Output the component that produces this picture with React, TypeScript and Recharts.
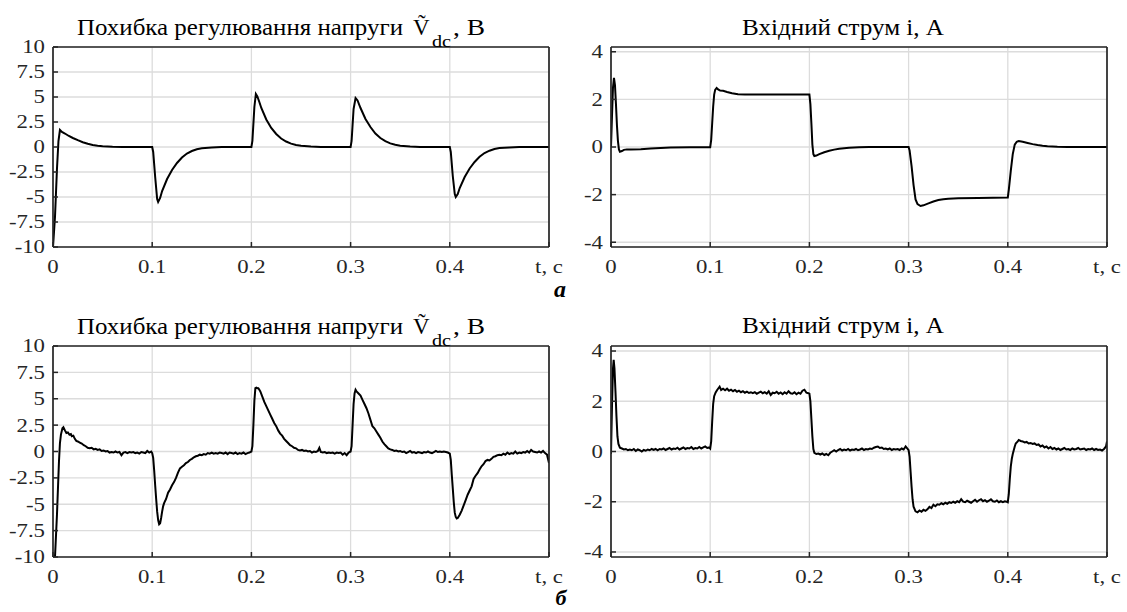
import React from 'react';
import { LineChart, Line, XAxis, YAxis, CartesianGrid } from 'recharts';

// ---------- data ----------
const xTicks = [0, 0.1, 0.2, 0.3, 0.4, 0.5];
const vTicks = [-10, -7.5, -5, -2.5, 0, 2.5, 5, 7.5, 10];
const iTicks = [-4, -2, 0, 2, 4];
const vDomain: [number, number] = [-10, 10];
const iDomain: [number, number] = [-4.2, 4.2];

const titleV = 'Похибка регулювання напруги';
const titleVSym = 'V\u0303';
const titleVSub = 'dc';
const titleVUnit = ', В';
const titleI = 'Вхідний струм і, А';
const xUnitLabel = 't, c';

// (a) voltage regulation error, V
const vdcA: [number, number][] = [
  [0, -10], [0.002, -7], [0.004, -2.2], [0.0055, 0.6], [0.007, 1.7], [0.009, 1.5], [0.012, 1.35], [0.016, 1.1],
  [0.02, 0.9], [0.025, 0.68], [0.03, 0.48], [0.035, 0.32], [0.04, 0.2], [0.045, 0.12], [0.05, 0.07], [0.06, 0.02],
  [0.07, 0], [0.1, 0],
  [0.101, -0.5], [0.103, -3], [0.105, -5.2], [0.106, -5.5], [0.108, -5.1], [0.11, -4.4], [0.115, -3.2], [0.12, -2.3],
  [0.125, -1.6], [0.13, -1.05], [0.135, -0.65], [0.14, -0.4], [0.145, -0.22], [0.15, -0.12], [0.16, -0.04], [0.17, 0], [0.2, 0],
  [0.201, 0.6], [0.203, 4.0], [0.2045, 5.3], [0.206, 5.05], [0.208, 4.5], [0.21, 3.9], [0.215, 2.75], [0.22, 1.9],
  [0.225, 1.3], [0.23, 0.85], [0.235, 0.55], [0.24, 0.34], [0.245, 0.2], [0.25, 0.12], [0.26, 0.04], [0.27, 0], [0.3, 0],
  [0.301, 0.6], [0.303, 3.8], [0.305, 4.9], [0.307, 4.65], [0.31, 3.9], [0.315, 2.8], [0.32, 2.0], [0.325, 1.35],
  [0.33, 0.9], [0.335, 0.58], [0.34, 0.36], [0.345, 0.22], [0.35, 0.13], [0.36, 0.04], [0.37, 0], [0.4, 0],
  [0.401, -0.5], [0.403, -2.9], [0.405, -4.7], [0.406, -5.0], [0.408, -4.7], [0.41, -4.1], [0.415, -3.0], [0.42, -2.15],
  [0.425, -1.5], [0.43, -0.98], [0.435, -0.6], [0.44, -0.37], [0.445, -0.2], [0.45, -0.11], [0.46, -0.04], [0.47, 0], [0.5, 0],
];

// (a) input current, A
const curA: [number, number][] = [
  [0, 0], [0.001, 1.3], [0.002, 2.5], [0.003, 2.9], [0.004, 2.6], [0.005, 1.8], [0.006, 0.9], [0.007, 0.25],
  [0.008, -0.1], [0.009, -0.2], [0.011, -0.17], [0.013, -0.12], [0.016, -0.1], [0.02, -0.11], [0.03, -0.09],
  [0.04, -0.06], [0.05, -0.04], [0.06, -0.02], [0.08, -0.01], [0.1, -0.01],
  [0.101, 0.3], [0.102, 1.0], [0.103, 1.7], [0.104, 2.2], [0.105, 2.4], [0.1065, 2.48], [0.108, 2.42], [0.11, 2.37],
  [0.113, 2.36], [0.117, 2.31], [0.122, 2.26], [0.128, 2.22], [0.135, 2.2], [0.2, 2.2],
  [0.201, 1.8], [0.202, 1.0], [0.203, 0.1], [0.204, -0.3], [0.205, -0.38], [0.207, -0.36], [0.21, -0.3], [0.215, -0.22],
  [0.22, -0.16], [0.225, -0.11], [0.23, -0.07], [0.24, -0.03], [0.25, -0.01], [0.26, 0], [0.3, 0],
  [0.301, -0.15], [0.303, -0.8], [0.305, -1.6], [0.307, -2.2], [0.309, -2.4], [0.312, -2.48], [0.315, -2.45], [0.32, -2.37],
  [0.325, -2.29], [0.33, -2.23], [0.335, -2.19], [0.34, -2.17], [0.35, -2.15], [0.37, -2.14], [0.4, -2.12],
  [0.401, -1.8], [0.403, -1.0], [0.405, -0.3], [0.407, 0.1], [0.409, 0.22], [0.411, 0.25], [0.415, 0.22], [0.42, 0.17],
  [0.425, 0.12], [0.43, 0.08], [0.435, 0.05], [0.44, 0.03], [0.45, 0.01], [0.46, 0], [0.5, 0],
];

// (б) voltage regulation error, V
const vdcB: [number, number][] = [
  [0, -10], [0.002, -10], [0.004, -6], [0.006, -1], [0.007, 0.8], [0.008, 1.6], [0.0095, 2.2], [0.0105, 2.3],
  [0.012, 2.0], [0.0135, 1.75], [0.015, 1.8], [0.0165, 1.6], [0.018, 1.65], [0.019, 1.45], [0.0205, 1.5], [0.022, 1.2],
  [0.0235, 1.0], [0.025, 0.95], [0.027, 0.85], [0.029, 0.75], [0.031, 0.6], [0.033, 0.5], [0.035, 0.35], [0.037, 0.3],
  [0.039, 0.35], [0.041, 0.2], [0.043, 0.25], [0.045, 0.15], [0.047, 0.2], [0.049, 0.05], [0.051, 0.1], [0.053, 0.0],
  [0.055, 0.05], [0.057, -0.1], [0.059, -0.05], [0.061, -0.1], [0.063, 0.0], [0.065, -0.1], [0.067, -0.05], [0.069, -0.35],
  [0.071, -0.1], [0.073, -0.05], [0.075, -0.15], [0.077, -0.05], [0.079, -0.1], [0.081, -0.05], [0.083, -0.15], [0.085, -0.1],
  [0.087, -0.2], [0.089, -0.05], [0.091, -0.1], [0.093, -0.15], [0.095, 0.05], [0.097, -0.1], [0.099, 0.0], [0.1, -0.15],
  [0.101, -0.6], [0.102, -1.8], [0.103, -3.2], [0.104, -4.5], [0.105, -5.7], [0.106, -6.5], [0.107, -6.9], [0.108, -6.8],
  [0.109, -6.3], [0.11, -5.7], [0.111, -5.2], [0.112, -4.9], [0.114, -4.5], [0.116, -3.9], [0.118, -3.6], [0.12, -3.2],
  [0.122, -2.9], [0.124, -2.5], [0.126, -2.0], [0.128, -1.6], [0.13, -1.45], [0.132, -1.3], [0.134, -1.1], [0.136, -1.0],
  [0.138, -0.8], [0.14, -0.7], [0.142, -0.55], [0.144, -0.45], [0.146, -0.4], [0.148, -0.3], [0.15, -0.35], [0.152, -0.25],
  [0.154, -0.3], [0.156, -0.15], [0.158, -0.2], [0.16, -0.1], [0.162, -0.2], [0.164, -0.15], [0.166, -0.2], [0.168, -0.1],
  [0.17, -0.15], [0.172, -0.2], [0.174, -0.1], [0.176, -0.25], [0.178, -0.1], [0.18, -0.15], [0.182, -0.2], [0.184, -0.1],
  [0.186, -0.25], [0.188, -0.15], [0.19, -0.2], [0.192, -0.1], [0.194, -0.25], [0.196, -0.15], [0.198, -0.1], [0.2, 0.0],
  [0.201, 0.5], [0.202, 2.5], [0.203, 4.8], [0.204, 6.0], [0.205, 6.05], [0.206, 6.0], [0.207, 6.0], [0.208, 5.85],
  [0.209, 5.7], [0.211, 5.2], [0.213, 4.7], [0.215, 4.3], [0.217, 3.9], [0.219, 3.5], [0.221, 3.1], [0.223, 2.7],
  [0.225, 2.4], [0.227, 2.0], [0.229, 1.7], [0.231, 1.5], [0.233, 1.2], [0.235, 1.0], [0.237, 0.8], [0.239, 0.6],
  [0.241, 0.5], [0.243, 0.35], [0.245, 0.3], [0.247, 0.15], [0.249, 0.1], [0.251, 0.15], [0.253, 0.05], [0.255, 0.1],
  [0.257, 0.0], [0.259, 0.05], [0.261, -0.1], [0.263, 0.0], [0.265, -0.05], [0.267, 0.05], [0.2685, 0.35], [0.27, -0.05],
  [0.272, -0.1], [0.274, -0.05], [0.276, -0.15], [0.278, -0.1], [0.28, -0.15], [0.282, -0.1], [0.284, -0.2], [0.286, -0.1],
  [0.288, -0.15], [0.29, -0.1], [0.292, -0.3], [0.294, -0.15], [0.296, -0.35], [0.298, -0.1], [0.3, 0.0],
  [0.301, 0.5], [0.302, 2.5], [0.303, 4.5], [0.304, 5.5], [0.305, 5.85], [0.306, 5.7], [0.308, 5.5], [0.31, 5.3],
  [0.312, 4.9], [0.314, 4.5], [0.316, 4.1], [0.318, 3.6], [0.32, 3.0], [0.322, 2.4], [0.324, 2.2], [0.326, 1.9],
  [0.328, 1.6], [0.33, 1.3], [0.332, 0.95], [0.334, 0.7], [0.336, 0.5], [0.338, 0.3], [0.34, 0.2], [0.342, 0.15],
  [0.344, 0.05], [0.346, 0.1], [0.348, 0.0], [0.35, 0.05], [0.352, -0.05], [0.354, 0.0], [0.356, -0.15], [0.358, -0.05],
  [0.36, 0.05], [0.362, -0.1], [0.364, -0.05], [0.366, -0.15], [0.368, -0.05], [0.37, -0.1], [0.372, -0.15], [0.374, -0.05],
  [0.376, -0.1], [0.378, 0.0], [0.38, -0.1], [0.382, -0.15], [0.384, -0.05], [0.386, 0.05], [0.388, -0.05], [0.39, 0.0],
  [0.392, -0.05], [0.394, 0.0], [0.396, -0.05], [0.398, -0.1], [0.4, -0.2],
  [0.401, -0.8], [0.402, -2.2], [0.403, -3.5], [0.404, -4.8], [0.405, -5.8], [0.406, -6.2], [0.407, -6.35], [0.408, -6.3],
  [0.41, -6.0], [0.412, -5.6], [0.414, -5.1], [0.416, -4.6], [0.418, -4.1], [0.42, -3.7], [0.422, -3.3], [0.424, -2.6],
  [0.426, -2.3], [0.428, -2.05], [0.43, -1.7], [0.432, -1.4], [0.434, -1.2], [0.436, -0.9], [0.438, -0.8], [0.44, -0.85],
  [0.442, -0.7], [0.444, -0.5], [0.446, -0.45], [0.448, -0.35], [0.45, -0.3], [0.452, -0.35], [0.454, -0.2], [0.456, -0.3],
  [0.458, -0.1], [0.46, -0.25], [0.462, -0.15], [0.464, -0.2], [0.466, 0.0], [0.468, -0.2], [0.47, -0.1], [0.472, -0.15],
  [0.474, -0.05], [0.476, -0.1], [0.478, 0.05], [0.48, -0.1], [0.482, 0.15], [0.484, 0.0], [0.486, -0.05], [0.488, -0.1],
  [0.49, 0.0], [0.492, -0.1], [0.494, 0.05], [0.496, -0.15], [0.498, -0.3], [0.5, -1.1],
];

// (б) input current, A
const curB: [number, number][] = [
  [0, -0.1], [0.001, 1.8], [0.002, 3.3], [0.0027, 3.65], [0.0035, 3.3], [0.0045, 2.4], [0.0055, 1.4], [0.0065, 0.6],
  [0.0075, 0.3], [0.009, 0.15], [0.011, 0.12], [0.013, 0.08], [0.015, 0.1], [0.017, 0.05], [0.019, 0.08], [0.021, 0.05],
  [0.023, 0.1], [0.025, 0.02], [0.027, 0.08], [0.029, 0.05], [0.031, 0.0], [0.033, 0.06], [0.035, 0.03], [0.037, 0.08],
  [0.039, 0.05], [0.041, 0.1], [0.043, 0.06], [0.045, 0.1], [0.047, 0.05], [0.049, 0.1], [0.051, 0.08], [0.053, 0.12],
  [0.055, 0.06], [0.057, 0.1], [0.059, 0.14], [0.061, 0.08], [0.063, 0.12], [0.065, 0.1], [0.067, 0.15], [0.069, 0.08],
  [0.071, 0.12], [0.073, 0.16], [0.075, 0.1], [0.077, 0.14], [0.079, 0.12], [0.081, 0.18], [0.083, 0.1], [0.085, 0.14],
  [0.087, 0.12], [0.089, 0.18], [0.091, 0.12], [0.093, 0.16], [0.095, 0.2], [0.097, 0.14], [0.099, 0.16], [0.1, 0.12],
  [0.101, 0.4], [0.102, 1.2], [0.103, 1.9], [0.104, 2.2], [0.1055, 2.35], [0.107, 2.45], [0.1095, 2.58], [0.111, 2.45],
  [0.113, 2.5], [0.115, 2.44], [0.117, 2.5], [0.119, 2.42], [0.121, 2.46], [0.123, 2.4], [0.125, 2.45], [0.127, 2.38],
  [0.129, 2.42], [0.131, 2.36], [0.133, 2.4], [0.135, 2.34], [0.137, 2.38], [0.139, 2.33], [0.141, 2.36], [0.143, 2.32],
  [0.145, 2.36], [0.147, 2.3], [0.149, 2.34], [0.151, 2.38], [0.153, 2.32], [0.155, 2.36], [0.157, 2.3], [0.159, 2.4],
  [0.161, 2.25], [0.163, 2.34], [0.165, 2.32], [0.167, 2.38], [0.169, 2.3], [0.171, 2.35], [0.173, 2.28], [0.175, 2.36],
  [0.177, 2.3], [0.179, 2.4], [0.181, 2.32], [0.183, 2.3], [0.185, 2.36], [0.187, 2.28], [0.189, 2.34], [0.191, 2.3],
  [0.193, 2.42], [0.195, 2.46], [0.197, 2.34], [0.199, 2.32], [0.2, 2.3],
  [0.201, 2.0], [0.202, 1.3], [0.203, 0.6], [0.204, 0.1], [0.205, -0.05], [0.207, -0.1], [0.209, -0.08], [0.211, -0.12],
  [0.213, -0.08], [0.215, -0.14], [0.217, -0.1], [0.219, -0.15], [0.221, -0.05], [0.223, 0.0], [0.225, 0.05], [0.227, 0.0],
  [0.229, 0.06], [0.231, 0.1], [0.233, 0.04], [0.235, 0.08], [0.237, 0.05], [0.239, 0.1], [0.241, 0.04], [0.243, 0.08],
  [0.245, 0.06], [0.247, 0.1], [0.249, 0.05], [0.251, 0.08], [0.253, 0.12], [0.255, 0.06], [0.257, 0.1], [0.259, 0.08],
  [0.261, 0.12], [0.263, 0.1], [0.265, 0.15], [0.267, 0.18], [0.269, 0.2], [0.271, 0.14], [0.273, 0.16], [0.275, 0.1],
  [0.277, 0.12], [0.279, 0.08], [0.281, 0.12], [0.283, 0.06], [0.285, 0.1], [0.287, 0.08], [0.289, 0.1], [0.291, 0.06],
  [0.293, 0.12], [0.295, 0.08], [0.297, 0.2], [0.299, 0.1], [0.3, 0.05],
  [0.301, -0.2], [0.302, -0.8], [0.303, -1.4], [0.304, -1.9], [0.305, -2.2], [0.307, -2.38], [0.309, -2.42], [0.311, -2.35],
  [0.313, -2.4], [0.315, -2.32], [0.317, -2.36], [0.319, -2.3], [0.321, -2.2], [0.323, -2.25], [0.325, -2.12], [0.327, -2.18],
  [0.329, -2.1], [0.331, -2.12], [0.333, -2.06], [0.335, -2.1], [0.337, -2.04], [0.339, -2.08], [0.341, -2.02], [0.343, -2.05],
  [0.345, -2.0], [0.347, -2.04], [0.349, -1.98], [0.351, -2.02], [0.353, -1.9], [0.355, -2.0], [0.357, -2.02], [0.359, -1.96],
  [0.361, -2.0], [0.363, -2.04], [0.365, -1.98], [0.367, -1.92], [0.369, -2.0], [0.371, -1.94], [0.373, -1.9], [0.375, -1.98],
  [0.377, -1.94], [0.379, -2.0], [0.381, -1.96], [0.383, -1.9], [0.385, -1.98], [0.387, -2.0], [0.389, -1.95], [0.391, -2.02],
  [0.393, -1.98], [0.395, -2.02], [0.397, -1.98], [0.399, -2.0], [0.4, -2.02],
  [0.401, -1.7], [0.402, -1.1], [0.403, -0.6], [0.404, -0.3], [0.405, -0.1], [0.406, 0.05], [0.407, 0.2], [0.408, 0.32],
  [0.41, 0.4], [0.411, 0.46], [0.413, 0.42], [0.415, 0.4], [0.417, 0.36], [0.419, 0.38], [0.421, 0.32], [0.423, 0.34],
  [0.425, 0.3], [0.427, 0.32], [0.429, 0.26], [0.431, 0.28], [0.433, 0.2], [0.435, 0.24], [0.437, 0.16], [0.439, 0.2],
  [0.441, 0.12], [0.443, 0.18], [0.445, 0.1], [0.447, 0.14], [0.449, 0.08], [0.451, 0.12], [0.453, 0.06], [0.455, 0.1],
  [0.457, 0.14], [0.459, 0.08], [0.461, 0.1], [0.463, 0.06], [0.465, 0.12], [0.467, 0.08], [0.469, 0.1], [0.471, 0.14],
  [0.473, 0.08], [0.475, 0.1], [0.477, 0.12], [0.479, 0.06], [0.481, 0.1], [0.483, 0.08], [0.485, 0.12], [0.487, 0.06],
  [0.489, 0.1], [0.491, 0.06], [0.493, 0.08], [0.495, 0.04], [0.497, 0.1], [0.499, 0.2], [0.5, 0.4],
];

// ---------- styling ----------
const FONT = 'Liberation Serif';
const AX = '#262626';
const GRID = '#dcdcdc';
const serif = { fontFamily: FONT };
const STRETCH = 1.2;
const TICK_FS = 19;

const toRows = (pairs: [number, number][]) => pairs.map(([t, v]) => ({ t, v }));
const fmtX = (v: number) => (v === 0.5 ? xUnitLabel : String(v));

function XTick(props: any) {
  const { x, y, payload } = props;
  return (
    <text
      x={0}
      y={0}
      transform={`translate(${x},${y}) scale(${STRETCH},1)`}
      textAnchor="middle"
      dy="0.71em"
      fontSize={TICK_FS}
      fill={AX}
      style={serif}
    >
      {fmtX(payload.value)}
    </text>
  );
}

function YTick(props: any) {
  const { x, y, payload } = props;
  return (
    <text
      x={0}
      y={0}
      transform={`translate(${x},${y}) scale(${STRETCH},1)`}
      textAnchor="end"
      dy="0.34em"
      fontSize={TICK_FS}
      fill={AX}
      style={serif}
    >
      {String(payload.value)}
    </text>
  );
}

type PanelProps = {
  pairs: [number, number][];
  left: number;
  top: number;
  w: number;
  h: number;
  margin: { top: number; right: number; bottom: number; left: number };
  domain: [number, number];
  ticks: number[];
};

function Panel({ pairs, left, top, w, h, margin, domain, ticks }: PanelProps) {
  const axisLine = { stroke: AX, strokeWidth: 1.7 };
  const tickLine = { stroke: AX, strokeWidth: 1.5 };
  // axes have a size of 1px, so the margins are reduced by 1 to keep the plot box in place
  const m = { top: margin.top - 1, left: margin.left - 1, right: margin.right - 1, bottom: margin.bottom - 1 };
  return (
    <div style={{ position: 'absolute', left, top, fontFamily: FONT }}>
      <LineChart width={w} height={h} data={toRows(pairs)} margin={m}>
        <CartesianGrid stroke={GRID} strokeWidth={1.3} />
        <XAxis
          dataKey="t"
          type="number"
          domain={[0, 0.5]}
          ticks={xTicks}
          interval={0}
          allowDataOverflow
          height={1}
          tickSize={-5}
          tickMargin={18}
          axisLine={axisLine}
          tickLine={tickLine}
          tick={<XTick />}
        />
        <XAxis
          xAxisId="top"
          orientation="top"
          dataKey="t"
          type="number"
          domain={[0, 0.5]}
          ticks={xTicks}
          interval={0}
          allowDataOverflow
          height={1}
          tickSize={-5}
          axisLine={axisLine}
          tickLine={tickLine}
          tick={false}
        />
        <YAxis
          type="number"
          domain={domain}
          ticks={ticks}
          interval={0}
          allowDataOverflow
          width={1}
          tickSize={-5}
          tickMargin={13}
          axisLine={axisLine}
          tickLine={tickLine}
          tick={<YTick />}
        />
        <YAxis
          yAxisId="right"
          orientation="right"
          type="number"
          domain={domain}
          ticks={ticks}
          interval={0}
          allowDataOverflow
          width={1}
          tickSize={-5}
          axisLine={axisLine}
          tickLine={tickLine}
          tick={false}
        />
        <Line
          dataKey="v"
          type="linear"
          stroke="#000"
          strokeWidth={2}
          dot={false}
          isAnimationActive={false}
        />
      </LineChart>
    </div>
  );
}

function VTitle({ dy }: { dy: number }) {
  return (
    <g fill="#000" style={serif}>
      <text x={77} y={35 + dy} fontSize={23} style={serif} textLength={326} lengthAdjust="spacingAndGlyphs">
        {titleV}
      </text>
      <text x={413} y={35 + dy} fontSize={23} style={serif}>{titleVSym}</text>
      <text x={432} y={47 + dy} fontSize={16} style={serif} textLength={19} lengthAdjust="spacingAndGlyphs">{titleVSub}</text>
      <text x={453} y={35 + dy} fontSize={23} style={serif} textLength={32} lengthAdjust="spacingAndGlyphs">{titleVUnit}</text>
    </g>
  );
}

function ITitle({ dy }: { dy: number }) {
  return (
    <text
      x={742}
      y={35 + dy}
      fontSize={23}
      style={serif}
      fill="#000"
      textLength={202}
      lengthAdjust="spacingAndGlyphs"
    >
      {titleI}
    </text>
  );
}

export default function App() {
  return (
    <div
      style={{
        position: 'absolute',
        left: 0,
        top: 0,
        width: 1127,
        height: 612,
        background: '#fff',
        overflow: 'hidden',
        fontFamily: FONT,
      }}
    >
      <Panel pairs={vdcA} left={0} top={0} w={580} h={300}
        margin={{ top: 47, left: 53, right: 31, bottom: 53 }} domain={vDomain} ticks={vTicks} />
      <Panel pairs={curA} left={560} top={0} w={567} h={300}
        margin={{ top: 47, left: 51, right: 20, bottom: 53 }} domain={iDomain} ticks={iTicks} />
      <Panel pairs={vdcB} left={0} top={300} w={580} h={312}
        margin={{ top: 46, left: 53, right: 31, bottom: 55 }} domain={vDomain} ticks={vTicks} />
      <Panel pairs={curB} left={560} top={300} w={567} h={312}
        margin={{ top: 46, left: 51, right: 20, bottom: 55 }} domain={iDomain} ticks={iTicks} />
      <svg width={1127} height={612} style={{ position: 'absolute', left: 0, top: 0, pointerEvents: 'none' }}>
        <VTitle dy={0} />
        <ITitle dy={0} />
        <VTitle dy={299} />
        <ITitle dy={298} />
        <text x={560} y={297} fontSize={24} style={serif} fontWeight="bold" fontStyle="italic" textAnchor="middle">а</text>
        <text x={561} y={605} fontSize={22} style={serif} fontWeight="bold" fontStyle="italic" textAnchor="middle">б</text>
      </svg>
    </div>
  );
}
